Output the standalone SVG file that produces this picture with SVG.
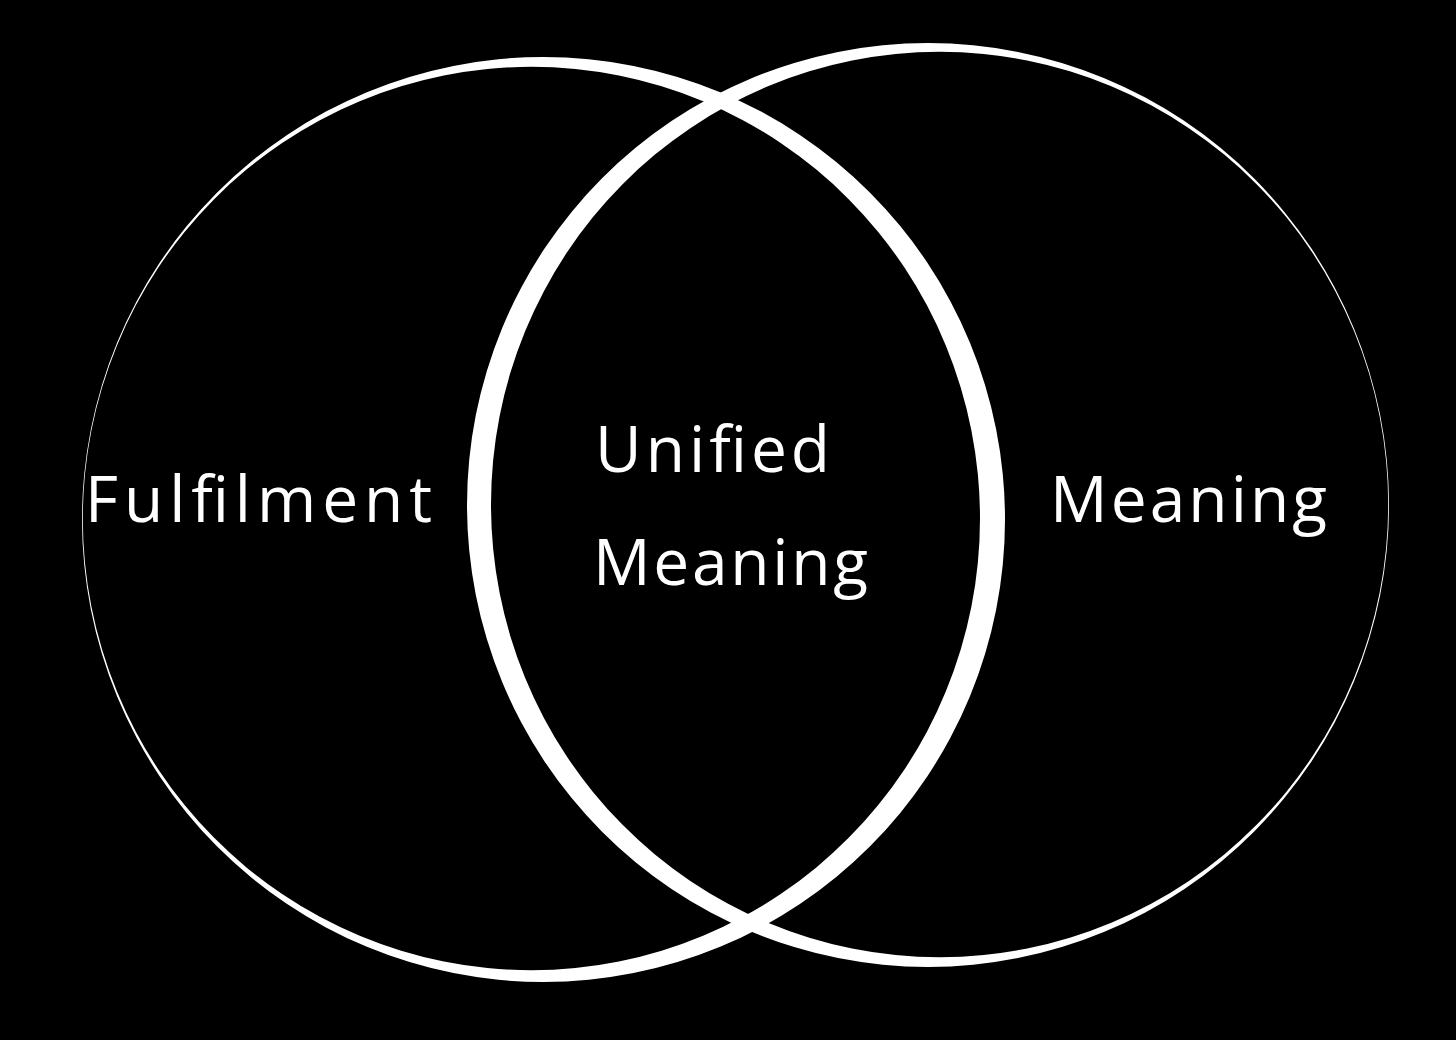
<svg xmlns="http://www.w3.org/2000/svg" width="1456" height="1040" viewBox="0 0 1456 1040">
<style>
.ring{fill:#ffffff;fill-rule:evenodd;stroke:none}
.lbl{font-family:"Open Sans","Liberation Sans",sans-serif;font-size:64px;fill:#ffffff;font-weight:400}
</style>
<rect x="0" y="0" width="1456" height="1040" fill="#000000"/>
<g id="circle-left">
<path class="ring" d="M 82 519.5 a 461.5 462.5 0 1 0 923 0 a 461.5 462.5 0 1 0 -923 0 Z M 82.8 518.5 a 448.6 451.5 0 1 0 897.2 0 a 448.6 451.5 0 1 0 -897.2 0 Z"/>
</g>
<g id="circle-right">
<path class="ring" d="M 467 505 a 461 462 0 1 0 922 0 a 461 462 0 1 0 -922 0 Z M 491 504.5 a 448.6 452.5 0 1 0 897.2 0 a 448.6 452.5 0 1 0 -897.2 0 Z"/>
</g>
<g id="label-fulfilment">
<text class="lbl" x="85" y="522" textLength="347" lengthAdjust="spacing">Fulfilment</text>
</g>
<g id="label-unified-meaning">
<text class="lbl" x="595" y="472" textLength="235" lengthAdjust="spacing">Unified</text>
<text class="lbl" x="593" y="585" textLength="275" lengthAdjust="spacing">Meaning</text>
</g>
<g id="label-meaning">
<text class="lbl" x="1050" y="522" textLength="277" lengthAdjust="spacing">Meaning</text>
</g>
</svg>
